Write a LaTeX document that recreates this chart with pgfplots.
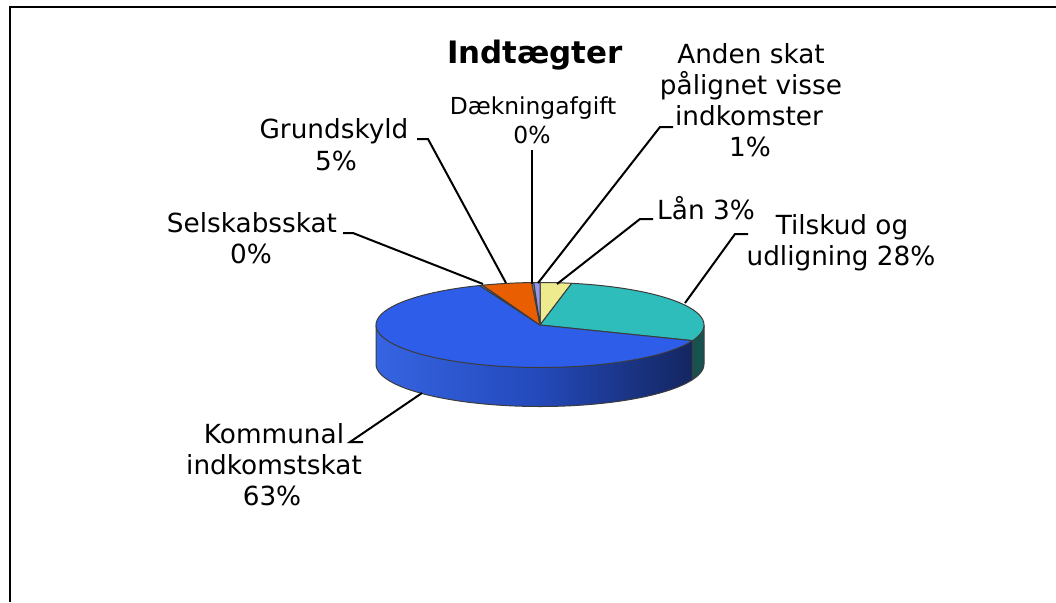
\documentclass[border=0pt]{standalone}
\usepackage{pgfplots}
\pgfplotsset{compat=1.18}
\usepackage{fontspec}
\setmainfont{DejaVu Sans}
\definecolor{cBlue}{RGB}{45,93,233}
\definecolor{cTeal}{RGB}{46,189,187}
\definecolor{cOrange}{RGB}{234,94,2}
\definecolor{cYellow}{RGB}{238,234,142}
\definecolor{cPurple}{RGB}{150,150,238}
\definecolor{cGray}{RGB}{140,140,140}
\definecolor{sideL}{RGB}{54,100,226}
\definecolor{sideM}{RGB}{36,74,188}
\definecolor{sideR}{RGB}{20,38,96}
\definecolor{tealSide}{RGB}{24,82,78}
\definecolor{edgec}{RGB}{60,60,60}
% slice values (percent), clockwise from 12 o'clock
\def\vLaan{3.1}
\def\vTilskud{27.9}
\def\vKommunal{63.0}
\def\vSelskab{0.3}
\def\vGrund{4.9}
\def\vDaek{0.2}
\def\vAnden{0.6}
\pgfmathsetmacro\aA{0}
\pgfmathsetmacro\aB{\aA+3.6*\vLaan}
\pgfmathsetmacro\aC{\aB+3.6*\vTilskud}
\pgfmathsetmacro\aD{\aC+3.6*\vKommunal}
\pgfmathsetmacro\aE{\aD+3.6*\vSelskab}
\pgfmathsetmacro\aF{\aE+3.6*\vGrund}
\pgfmathsetmacro\aG{\aF+3.6*\vDaek}
\pgfmathsetmacro\aH{\aG+3.6*\vAnden}
\pgfmathsetmacro\xC{540+164*sin(\aC)}
\pgfmathsetmacro\yC{325-42.5*cos(\aC)}
\newcommand\lab{\fontsize{13.15}{16}\selectfont}
\newcommand\slice[3]{%
  \addplot[fill=#1, draw=edgec, line width=0.5pt, line join=round, domain=#2:#3, samples=60, variable=\t]
    ({540+164*sin(\t)},{325-42.5*cos(\t)}) -- (axis cs:540,325) -- cycle;
}
\begin{document}
\begin{tikzpicture}
\begin{axis}[name=ax, width=528pt, height=301pt, scale only axis,
  xmin=0, xmax=1056, ymin=0, ymax=602, y dir=reverse,
  hide axis, clip=false]
% frame
\addplot[black, line width=1pt] coordinates {(10,602) (10,7) (1056,7)};
% side walls
\addplot[draw=edgec, line width=0.5pt, line join=round,
  left color=sideL, right color=sideR, middle color=sideM,
  domain=\aC:270, samples=80, variable=\t]
  ({540+164*sin(\t)},{364-42.5*cos(\t)}) -- (axis cs:376,325) -- (axis cs:\xC,\yC) -- cycle;
\addplot[fill=tealSide, draw=edgec, line width=0.5pt, line join=round,
  domain=90:\aC, samples=20, variable=\t]
  ({540+164*sin(\t)},{364-42.5*cos(\t)}) -- (axis cs:\xC,\yC) -- (axis cs:704,325) -- cycle;
% top faces
\slice{cYellow}{\aA}{\aB}
\slice{cTeal}{\aB}{\aC}
\slice{cBlue}{\aC}{\aD}
\slice{cGray}{\aD}{\aE}
\slice{cOrange}{\aE}{\aF}
\slice{cGray}{\aF}{\aG}
\slice{cPurple}{\aG}{\aH}
% leader lines
\addplot[black, line width=1pt] coordinates {(343,233) (353,233) (483,284)};
\addplot[black, line width=1pt] coordinates {(417,139) (428,139) (506,283)};
\addplot[black, line width=1pt] coordinates {(532,150) (532,284)};
\addplot[black, line width=1pt] coordinates {(673,127) (660,127) (538,283)};
\addplot[black, line width=1pt] coordinates {(653,219) (640,219) (557,284)};
\addplot[black, line width=1pt] coordinates {(748,234) (735,234) (685,303)};
\addplot[black, line width=1pt] coordinates {(363,442) (350,442) (422,393)};
% title
\node[anchor=base, font=\fontsize{15.45}{18}\selectfont\bfseries] at (axis cs:535,63) {Indtægter};
% labels
\node[anchor=base, font=\fontsize{11.7}{14}\selectfont] at (axis cs:533,114) {Dækningafgift};
\node[anchor=base, font=\fontsize{11.7}{14}\selectfont] at (axis cs:532,143) {0\%};
\node[anchor=base, font=\lab] at (axis cs:751,63) {Anden skat};
\node[anchor=base, font=\lab] at (axis cs:751,94) {pålignet visse};
\node[anchor=base, font=\lab] at (axis cs:749,125) {indkomster};
\node[anchor=base, font=\lab] at (axis cs:750,156) {1\%};
\node[anchor=base, font=\lab] at (axis cs:334,138) {Grundskyld};
\node[anchor=base, font=\lab] at (axis cs:336,170) {5\%};
\node[anchor=base, font=\lab] at (axis cs:252,232) {Selskabsskat};
\node[anchor=base, font=\lab] at (axis cs:251,263) {0\%};
\node[anchor=base, font=\lab] at (axis cs:706,219) {Lån 3\%};
\node[anchor=base, font=\lab] at (axis cs:842,234) {Tilskud og};
\node[anchor=base, font=\lab] at (axis cs:841,265) {udligning 28\%};
\node[anchor=base, font=\lab] at (axis cs:274,443) {Kommunal};
\node[anchor=base, font=\lab] at (axis cs:274,474) {indkomstskat};
\node[anchor=base, font=\lab] at (axis cs:272,505) {63\%};
\end{axis}
\pgfresetboundingbox
\path (ax.south west) rectangle (ax.north east);
\end{tikzpicture}
\end{document}
